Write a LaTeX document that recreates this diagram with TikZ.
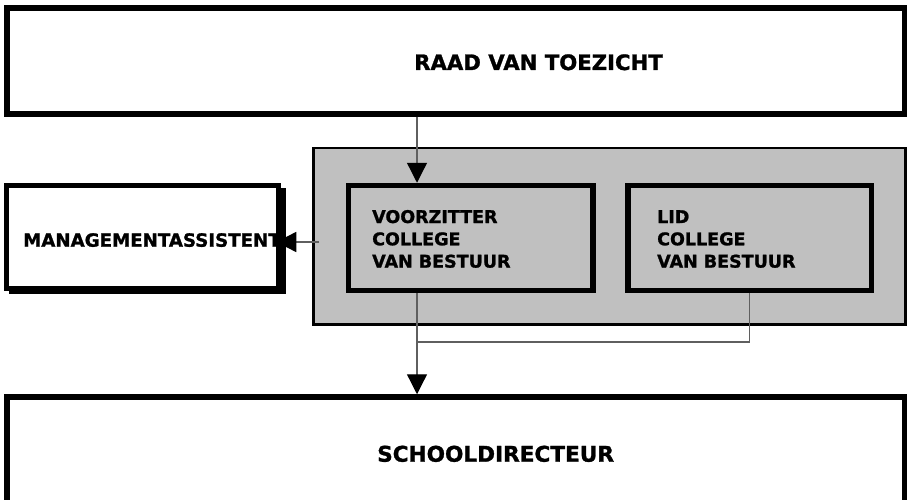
\documentclass[tikz,border=0pt]{standalone}
\usepackage{fontspec}
\setmainfont{DejaVu Sans}
\newfontfamily\lblfont{DejaVu Sans Bold}[FakeBold=1.2]
\usetikzlibrary{arrows.meta}
\definecolor{boxgrey}{RGB}{192,192,192}
\definecolor{linegrey}{RGB}{95,95,95}
\begin{document}
\begin{tikzpicture}[x=1pt,y=-1pt,
  heavybox/.style={draw=black,line width=5.5pt,inner sep=0pt,rectangle},
  whitebox/.style={heavybox,fill=white},
  innerbox/.style={heavybox,fill=boxgrey},
  groupbox/.style={draw=black,line width=2.5pt,fill=boxgrey,inner sep=0pt,rectangle},
  lbl/.style={anchor=base west,inner sep=0pt,font=\lblfont\fontsize{17.5}{21}\selectfont},
  biglbl/.style={anchor=base west,inner sep=0pt,font=\lblfont\fontsize{21.2}{25}\selectfont},
  conn/.style={draw=linegrey,line width=1.3pt},
  arr/.style={conn,-{Triangle[length=20pt,width=20pt,color=black]}}]
\useasboundingbox (0,0) rectangle (907,500);
% boxes
\node[whitebox,minimum width=898pt,minimum height=106pt] (raad) at (456,61) {};
\node[groupbox,minimum width=592pt,minimum height=176.5pt] (grp) at (609.5,236.25) {};
\node[innerbox,minimum width=244.5pt,minimum height=105pt] (voorz) at (470.75,238) {};
\node[innerbox,minimum width=243.5pt,minimum height=105pt] (lid) at (749.75,238) {};
\fill[black] (9,188) rectangle (286,294);
\node[whitebox,minimum width=272pt,minimum height=103pt] (manag) at (142.5,237) {};
\node[whitebox,minimum width=898pt,minimum height=113pt] (school) at (456,453.5) {};
% labels
\node[biglbl] (raadtxt) at (414,70) {RAAD VAN TOEZICHT};
\node[lbl] (v1) at (372,223) {VOORZITTER};
\node[lbl] (v2) at (372,245.3) {COLLEGE};
\node[lbl] (v3) at (372,267.6) {VAN BESTUUR};
\node[lbl] (l1) at (657,223) {LID};
\node[lbl] (l2) at (657,245.3) {COLLEGE};
\node[lbl] (l3) at (657,267.6) {VAN BESTUUR};
\node[anchor=base west,inner sep=0pt,font=\lblfont\fontsize{18.2}{22}\selectfont] (mtxt) at (23,246.7) {MANAGEMENTASSISTENT};
\node[biglbl,font=\lblfont\fontsize{21.6}{25}\selectfont] (stxt) at (377,461.7) {SCHOOLDIRECTEUR};
% connectors
\coordinate (tap) at (417,0);
\coordinate (marry) at (0,242);
\coordinate (joint) at (417,342);
\draw[arr] (raad.south -| tap) -- (voorz.north -| tap);
\draw[conn] (lid.south) |- (joint);
\draw[arr] (voorz.south -| tap) -- (school.north -| tap);
\draw[arr,shorten <=-7pt,shorten >=-5pt] (grp.west |- marry) -- (manag.east |- marry);
\end{tikzpicture}
\end{document}
